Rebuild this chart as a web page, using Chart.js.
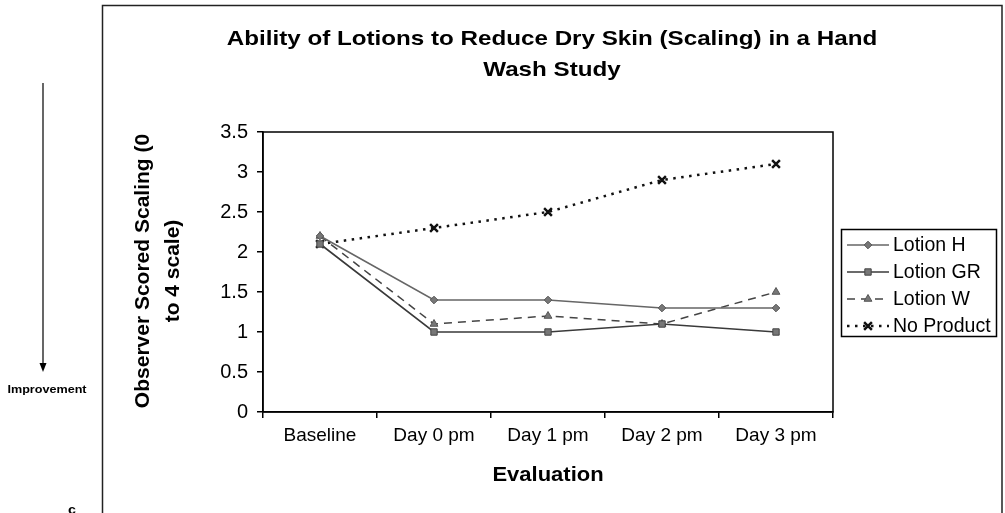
<!DOCTYPE html>
<html>
<head>
<meta charset="utf-8">
<script src="https://cdn.jsdelivr.net/npm/chart.js@4/dist/chart.umd.min.js"></script>
<style>
html,body{margin:0;padding:0;background:#fff;}
canvas{display:block;}
</style>
</head>
<body>
<canvas id="c" width="1005" height="513"></canvas>
<script>
// ---- data ----
const categories = ["Baseline", "Day 0 pm", "Day 1 pm", "Day 2 pm", "Day 3 pm"];
const lotionH   = [2.2, 1.4, 1.4, 1.3, 1.3];
const lotionGR  = [2.1, 1.0, 1.0, 1.1, 1.0];
const lotionW   = [2.2, 1.1, 1.2, 1.1, 1.5];
const noProduct = [2.1, 2.3, 2.5, 2.9, 3.1];
const seriesNames = ["Lotion H", "Lotion GR", "Lotion W", "No Product"];
const yTicks = [0, 0.5, 1, 1.5, 2, 2.5, 3, 3.5];
const yTickLabels = ["0", "0.5", "1", "1.5", "2", "2.5", "3", "3.5"];
const titleLines = ["Ability of Lotions to Reduce Dry Skin (Scaling) in a Hand", "Wash Study"];
const yTitleLines = ["Observer Scored Scaling (0", "to 4 scale)"];
const xTitle = "Evaluation";
const sideLabel = "Improvement";

const FONT = '"Liberation Sans", Arial, Helvetica, sans-serif';

function stretchedText(ctx, text, x, y, size, weight, sx, align, rot) {
  ctx.save();
  ctx.translate(x, y);
  if (rot) ctx.rotate(rot);
  ctx.scale(sx, 1);
  ctx.font = weight + ' ' + size + 'px ' + FONT;
  ctx.textAlign = align || 'center';
  ctx.textBaseline = 'alphabetic';
  ctx.fillStyle = '#000';
  ctx.fillText(text, 0, 0);
  ctx.restore();
}

const decor = {
  id: 'decor',
  beforeDatasetsDraw(chart) {
    const ctx = chart.ctx, a = chart.chartArea;
    ctx.save();
    ctx.strokeStyle = '#000';
    ctx.lineWidth = 1.5;
    ctx.strokeRect(a.left, a.top, a.right - a.left, a.bottom - a.top);
    ctx.restore();
  },
  afterDraw(chart) {
    const ctx = chart.ctx, a = chart.chartArea;
    ctx.save();
    // outer frame
    ctx.strokeStyle = '#222';
    ctx.lineWidth = 1.5;
    ctx.beginPath();
    ctx.moveTo(102.5, 513); ctx.lineTo(102.5, 5.5); ctx.lineTo(1002, 5.5); ctx.lineTo(1002, 513);
    ctx.stroke();
    // arrow
    ctx.strokeStyle = '#000';
    ctx.lineWidth = 1.2;
    ctx.beginPath(); ctx.moveTo(43, 83); ctx.lineTo(43, 365); ctx.stroke();
    ctx.fillStyle = '#000';
    ctx.beginPath(); ctx.moveTo(39.5, 363); ctx.lineTo(46.5, 363); ctx.lineTo(43, 372); ctx.closePath(); ctx.fill();
    ctx.restore();

    stretchedText(ctx, sideLabel, 47, 393, 10.5, 'bold', 1.2, 'center');
    stretchedText(ctx, 'c', 72, 514, 13, 'bold', 1.1, 'center');

    // title
    const cx = (a.left + a.right) / 2 + 4;
    stretchedText(ctx, titleLines[0], cx, 45, 20.5, 'bold', 1.18, 'center');
    stretchedText(ctx, titleLines[1], cx, 76, 20.5, 'bold', 1.18, 'center');
    // y title
    const cy = (a.top + a.bottom) / 2 - 1;
    stretchedText(ctx, yTitleLines[0], 149, cy, 21, 'bold', 1, 'center', -Math.PI / 2);
    stretchedText(ctx, yTitleLines[1], 179, cy, 21, 'bold', 1, 'center', -Math.PI / 2);
    // x title
    stretchedText(ctx, xTitle, (a.left + a.right) / 2, 481, 20, 'bold', 1.1, 'center');

    // legend
    const lx = 841, ly = 229, lw = 155, lh = 107;
    ctx.save();
    ctx.fillStyle = '#fff';
    ctx.fillRect(lx, ly, lw, lh);
    ctx.strokeStyle = '#000';
    ctx.lineWidth = 1.5;
    ctx.strokeRect(lx + 0.5, ly + 0.5, lw, lh);
    const rows = [245, 272, 299, 326];
    chart.data.datasets.forEach((ds, i) => {
      const y = rows[i];
      ctx.save();
      ctx.strokeStyle = ds.borderColor;
      ctx.lineWidth = ds.borderWidth;
      ctx.setLineDash(ds.borderDash || []);
      ctx.beginPath(); ctx.moveTo(847, y); ctx.lineTo(889, y); ctx.stroke();
      ctx.restore();
      ctx.save();
      ctx.fillStyle = ds.pointBackgroundColor; ctx.strokeStyle = ds.pointBorderColor;
      ctx.lineWidth = ds.pointBorderWidth || 1;
      Chart.helpers.drawPoint(ctx, {pointStyle: ds.pointStyle, radius: ds.pointRadius, borderWidth: ds.pointBorderWidth || 1, rotation: 0}, 868, y);
      ctx.restore();
      ctx.font = '19.5px ' + FONT;
      ctx.fillStyle = '#000';
      ctx.textAlign = 'left';
      ctx.textBaseline = 'middle';
      ctx.fillText(seriesNames[i], 893, y + 1);
    });
    ctx.restore();
  }
};

new Chart(document.getElementById('c'), {
  type: 'line',
  data: {
    labels: categories,
    datasets: [
      { label: seriesNames[0], data: lotionH, borderColor: '#666', borderWidth: 1.6,
        pointStyle: 'rectRot', pointRadius: 3.8, pointBackgroundColor: '#777', pointBorderColor: '#555', pointBorderWidth: 1 },
      { label: seriesNames[1], data: lotionGR, borderColor: '#3a3a3a', borderWidth: 1.6,
        pointStyle: 'rect', pointRadius: 4.5, pointBackgroundColor: '#777', pointBorderColor: '#444', pointBorderWidth: 1 },
      { label: seriesNames[2], data: lotionW, borderColor: '#444', borderWidth: 1.5, borderDash: [8, 6],
        pointStyle: 'triangle', pointRadius: 4.5, pointBackgroundColor: '#777', pointBorderColor: '#555', pointBorderWidth: 1 },
      { label: seriesNames[3], data: noProduct, borderColor: '#111', borderWidth: 2.5, borderDash: [2.5, 5.5],
        pointStyle: 'crossRot', pointRadius: 5.5, pointBackgroundColor: '#111', pointBorderColor: '#111', pointBorderWidth: 2.5 }
    ]
  },
  options: {
    responsive: false,
    animation: false,
    devicePixelRatio: 1,
    layout: { padding: { top: 132, right: 172, left: 0, bottom: 0 } },
    plugins: { legend: { display: false }, title: { display: false }, tooltip: { enabled: false } },
    elements: { line: { tension: 0 } },
    scales: {
      x: {
        offset: true,
        grid: { offset: true, drawOnChartArea: false, drawTicks: true, tickLength: 6, color: '#000', lineWidth: 1.5 },
        border: { display: true, color: '#000', width: 1.5 },
        ticks: { color: '#000', font: { family: FONT, size: 19 }, padding: 6, maxRotation: 0, autoSkip: false },
        afterFit(s) { s.height = 101; }
      },
      y: {
        min: 0, max: 3.5,
        afterBuildTicks(s) { s.ticks = yTicks.map(v => ({ value: v })); },
        grid: { drawOnChartArea: false, drawTicks: true, tickLength: 6, color: '#000', lineWidth: 1.5 },
        border: { display: true, color: '#000', width: 1.5 },
        ticks: { color: '#000', font: { family: FONT, size: 20 }, padding: 9,
          callback: (v) => { const i = yTicks.indexOf(v); return i >= 0 ? yTickLabels[i] : ''; } },
        afterFit(s) { s.width = 263; }
      }
    }
  },
  plugins: [decor]
});
</script>
</body>
</html>
